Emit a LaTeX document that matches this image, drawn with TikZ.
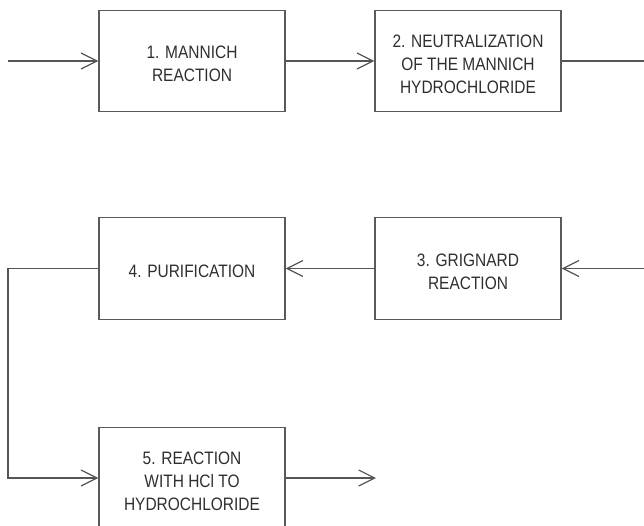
\documentclass[tikz,border=0pt]{standalone}
\usepackage{fontspec}
\setmainfont{Liberation Sans}[FakeStretch=0.86]
\usetikzlibrary{arrows.meta}
\definecolor{boxgray}{HTML}{5A5A5A}
\definecolor{linegray}{HTML}{555555}
\definecolor{textgray}{HTML}{2E2E2E}
\begin{document}
\begin{tikzpicture}[x=1pt,y=-1pt,
  box/.style={draw=boxgray, line width=1.2pt, minimum width=186pt, minimum height=101.5pt, inner sep=0pt},
  lbl/.style={align=center, text=textgray, font=\fontsize{18}{23}\selectfont, inner sep=0pt},
  conn/.style={draw=linegray, line width=1.2pt},
  arr/.style={conn, -{Straight Barb[length=16pt,width=16pt]}}]
\useasboundingbox (0,0) rectangle (644,526);
\clip (0,0) rectangle (644,526);
% boxes
\node[box] (b1) at (192,61) {};
\node[box] (b2) at (468,61) {};
\node[box] (b3) at (468,268.5) {};
\node[box] (b4) at (192,268.5) {};
\node[box] (b5) at (192,478) {};
% labels
\node[lbl] (t1) at ([yshift=-3pt]b1.center) {1. MANNICH\\REACTION};
\node[lbl] (t2) at ([yshift=-3pt]b2.center) {2. NEUTRALIZATION\\OF THE MANNICH\\HYDROCHLORIDE};
\node[lbl] (t3) at ([yshift=-3pt]b3.center) {3. GRIGNARD\\REACTION};
\node[lbl] (t4) at ([yshift=-3pt]b4.center) {4. PURIFICATION};
\node[lbl] (t5) at ([yshift=-3pt]b5.center) {5. REACTION\\WITH HCl TO\\HYDROCHLORIDE};
% free ends
\coordinate (in1) at (8,61);
\coordinate (r1) at (644,61);
\coordinate (r2) at (644,268.5);
\coordinate (l1) at (8,268.5);
\coordinate (out5) at (376,478);
% connectors
\draw[arr] (in1) -- (b1.west);
\draw[arr] (b1.east) -- (b2.west);
\draw[conn] (b2.east) -- (r1);
\draw[arr] (r2) -- (b3.east);
\draw[arr] (b3.west) -- (b4.east);
\draw[arr] (b4.west) -- (l1) |- (b5.west);
\draw[arr] (b5.east) -- (out5);
\end{tikzpicture}
\end{document}
